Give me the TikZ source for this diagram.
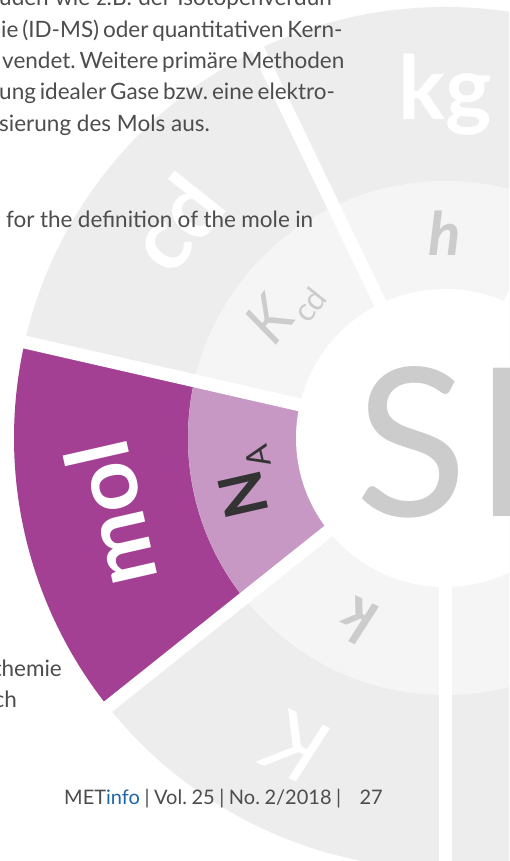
\documentclass[tikz,border=0pt]{standalone}
\usepackage{fontspec}
\setmainfont{Lato}
\usetikzlibrary{calc}
\frenchspacing
\definecolor{ring}{HTML}{EDEDED}
\definecolor{inring}{HTML}{F5F5F5}
\definecolor{molc}{HTML}{A34093}
\definecolor{nac}{HTML}{C798C4}
\definecolor{lab}{HTML}{CCCCCC}
\definecolor{bodyc}{HTML}{4D4D4D}
\definecolor{dark}{HTML}{333333}
\definecolor{infoblue}{HTML}{1F66A8}
\tikzset{
  bodytext/.style={inner sep=0pt, anchor=base west, text=bodyc, font=\fontsize{22.5}{22.5}\selectfont},
  foottext/.style={inner sep=0pt, text=bodyc, font=\fontsize{20}{20}\selectfont},
  outerlab/.style={inner sep=0pt, text=white, font=\bfseries\fontsize{88}{88}\selectfont},
  innerlab/.style={inner sep=0pt, text=lab, font=\fontsize{60}{60}\selectfont},
  gapline/.style={white, line width=13pt}
}
\begin{document}
\begin{tikzpicture}[x=1pt,y=1pt]
\useasboundingbox (0,0) rectangle (509,861);
\clip (0,0) rectangle (509,861);
\fill[white] (0,0) rectangle (509,861);
\coordinate (C) at (445,423);
% wheel
\fill[ring] (C) circle (431);
\fill[molc] (C) -- ++(167.14:431) arc[start angle=167.14, end angle=218.57, radius=431] -- cycle;
\fill[inring] (C) circle (257);
\fill[nac] (C) -- ++(167.14:257) arc[start angle=167.14, end angle=218.57, radius=257] -- cycle;
\fill[white] (C) circle (149);
\foreach \a in {270,218.57,167.14,115.71,64.29,12.86,-38.57}
  \draw[gapline] (C) -- ++(\a:450);
% outer labels
\node[outerlab] (kg) at ($(C)+(90:343)$) {kg};
\node[outerlab, rotate=51.43] (cd) at ($(C)+(141.43:345)$) {cd};
\node[outerlab, rotate=102.86] (mol) at ($(C)+(192.86:343)$) {mol};
\node[outerlab, font=\itshape\fontsize{88}{88}\selectfont, rotate=154.29] (Kout) at ($(C)+(244.29:343)$) {K};
% inner labels
\node[innerlab, font=\bfseries\itshape\fontsize{60}{60}\selectfont] (h) at ($(C)+(90:205)$) {h};
\node[innerlab, rotate=51.43] (Kcd) at ($(C)+(141.43:205)$) {\textit{K}\raisebox{-0.2em}{\fontsize{32}{32}\selectfont cd}};
\node[innerlab, text=dark, rotate=102.86] (NA) at ($(C)+(192.86:203)$) {\textbf{N}\raisebox{-0.22em}{\fontsize{32}{32}\selectfont A}};
\node[innerlab, font=\bfseries\itshape\fontsize{60}{60}\selectfont, rotate=154.29] (k) at ($(C)+(244.29:203)$) {k};
% SI
\node[inner sep=0pt, anchor=base, text=lab, font=\fontsize{207}{207}\selectfont] (S) at (412,344) {S};
\node[inner sep=0pt, anchor=base, text=lab, font=\fontsize{207}{207}\selectfont] (I) at (503,344) {I};
% body text
\node[bodytext] (l1) at (-1,855.2) {\makebox[341pt][s]{uden wie z.B. der Isotopenverdün-}};
\node[bodytext] (l2) at (1,823.7) {\makebox[331pt][s]{ie (ID-MS) oder quantitativen Kern-}};
\node[bodytext] (l3) at (2,792) {\makebox[339pt][s]{vendet. Weitere primäre Methoden}};
\node[bodytext] (l4) at (-1,761) {\makebox[334pt][s]{ung idealer Gase bzw. eine elektro-}};
\node[bodytext] (l5) at (-1,729.3) {sierung des Mols aus.};
\node[bodytext] (l6) at (6,633) {\makebox[307pt][s]{for the definition of the mole in}};
\node[bodytext, anchor=base east] (l7) at (62,184) {themie};
\node[bodytext, anchor=base east] (l8) at (17,153) {ch};
% footer
\node[foottext, anchor=base west] (ft) at (64,56) {\makebox[277pt][s]{MET\textcolor{infoblue}{info} | Vol. 25 | No. 2/2018 |}};
\node[foottext, anchor=base east] (pg) at (383,56) {27};
\end{tikzpicture}
\end{document}
